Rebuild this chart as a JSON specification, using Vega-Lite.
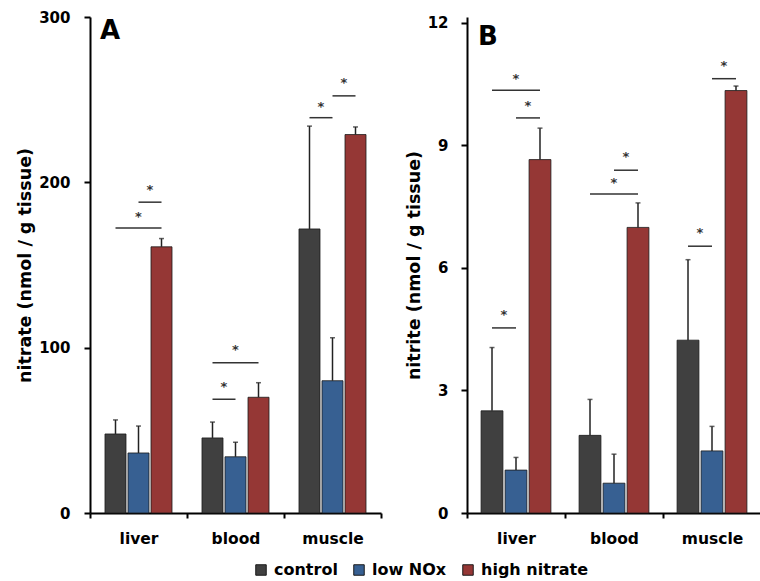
{
  "$schema": "https://vega.github.io/schema/vega-lite/v6.json",
  "padding": {"left": 16, "top": 10, "right": 0, "bottom": 0},
  "background": "white",
  "bounds": "flush",
  "spacing": 86,
  "config": {
    "view": {"stroke": null},
    "font": "DejaVu Sans",
    "axis": {"domainColor": "#000", "domainWidth": 2, "tickColor": "#000", "tickWidth": 2, "labelColor": "#000", "labelFont": "DejaVu Sans", "labelFontWeight": "bold", "titleFont": "DejaVu Sans", "titleFontWeight": "bold", "titleColor": "#000", "grid": false},
    "axisY": {"tickSize": 6, "labelFontSize": 15, "labelPadding": 14, "titleFontSize": 17.5, "titlePadding": 4},
    "axisX": {"tickSize": 5, "labelFontSize": 15.5, "labelPadding": 13, "labelAngle": 0, "tickBand": "extent", "title": null}
  },
  "datasets": {
    "nitrate": [
      {"tissue": "liver", "group": "control", "mean": 47.8, "upper": 56.3},
      {"tissue": "liver", "group": "low NOx", "mean": 36.3, "upper": 52.6},
      {"tissue": "liver", "group": "high nitrate", "mean": 161, "upper": 166},
      {"tissue": "blood", "group": "control", "mean": 45.4, "upper": 55},
      {"tissue": "blood", "group": "low NOx", "mean": 34, "upper": 42.8},
      {"tissue": "blood", "group": "high nitrate", "mean": 70, "upper": 78.8},
      {"tissue": "muscle", "group": "control", "mean": 171.8, "upper": 234},
      {"tissue": "muscle", "group": "low NOx", "mean": 80, "upper": 106},
      {"tissue": "muscle", "group": "high nitrate", "mean": 228.9, "upper": 233.5}
    ],
    "nitrite": [
      {"tissue": "liver", "group": "control", "mean": 2.5, "upper": 4.05},
      {"tissue": "liver", "group": "low NOx", "mean": 1.05, "upper": 1.36},
      {"tissue": "liver", "group": "high nitrate", "mean": 8.65, "upper": 9.42},
      {"tissue": "blood", "group": "control", "mean": 1.9, "upper": 2.78},
      {"tissue": "blood", "group": "low NOx", "mean": 0.73, "upper": 1.44},
      {"tissue": "blood", "group": "high nitrate", "mean": 6.99, "upper": 7.59},
      {"tissue": "muscle", "group": "control", "mean": 4.23, "upper": 6.2},
      {"tissue": "muscle", "group": "low NOx", "mean": 1.52, "upper": 2.12},
      {"tissue": "muscle", "group": "high nitrate", "mean": 10.34, "upper": 10.45}
    ],
    "bracketsA": [
      {"tissue": "liver", "from": "control", "to": "high nitrate", "y": 172.4, "star": 181.5},
      {"tissue": "liver", "from": "low NOx", "to": "high nitrate", "y": 188, "star": 197.8},
      {"tissue": "blood", "from": "control", "to": "low NOx", "y": 68.8, "star": 78.5},
      {"tissue": "blood", "from": "control", "to": "high nitrate", "y": 90.9, "star": 101},
      {"tissue": "muscle", "from": "control", "to": "low NOx", "y": 239.1, "star": 248.2},
      {"tissue": "muscle", "from": "low NOx", "to": "high nitrate", "y": 252.3, "star": 262.5}
    ],
    "bracketsB": [
      {"tissue": "liver", "from": "control", "to": "high nitrate", "y": 10.35, "star": 10.72},
      {"tissue": "liver", "from": "low NOx", "to": "high nitrate", "y": 9.67, "star": 10.07},
      {"tissue": "liver", "from": "control", "to": "low NOx", "y": 4.53, "star": 4.94},
      {"tissue": "blood", "from": "control", "to": "high nitrate", "y": 7.81, "star": 8.17},
      {"tissue": "blood", "from": "low NOx", "to": "high nitrate", "y": 8.39, "star": 8.8},
      {"tissue": "muscle", "from": "control", "to": "low NOx", "y": 6.53, "star": 6.95},
      {"tissue": "muscle", "from": "low NOx", "to": "high nitrate", "y": 10.63, "star": 11.05}
    ]
  },
  "resolve": {"scale": {"xOffset": "independent"}},
  "hconcat": [
    {
      "width": 291,
      "height": 496,
      "title": {"text": "A", "anchor": "start", "frame": "group", "fontSize": 26, "font": "DejaVu Sans", "fontWeight": "bold", "color": "#000", "dx": 10, "offset": -55, "baseline": "alphabetic"},
      "layer": [
        {
          "data": {"name": "nitrate"},
          "mark": {"type": "bar", "stroke": "#1a1a1a", "strokeWidth": 0.8},
          "encoding": {
            "x": {"field": "tissue", "type": "nominal", "sort": ["liver", "blood", "muscle"], "scale": {"paddingInner": 0, "paddingOuter": 0}},
            "xOffset": {"field": "group", "type": "nominal", "scale": {"domain": ["control", "low NOx", "high nitrate"], "paddingInner": 0.087, "paddingOuter": 0.652}},
            "y": {"field": "mean", "type": "quantitative", "title": "nitrate (nmol / g tissue)", "scale": {"domain": [0, 300], "nice": false}, "axis": {"values": [0, 100, 200, 300]}},
            "color": {"field": "group", "type": "nominal",
              "scale": {"domain": ["control", "low NOx", "high nitrate"], "range": ["#404040", "#376092", "#953735"]},
              "legend": {"orient": "none", "legendX": 163, "legendY": 545, "direction": "horizontal", "title": null, "symbolType": "square", "symbolSize": 110, "symbolStrokeColor": "#1a1a1a", "symbolStrokeWidth": 1, "labelFont": "DejaVu Sans", "labelFontWeight": "bold", "labelFontSize": 16, "labelColor": "#000", "labelOffset": 5, "columnPadding": 13, "padding": 0}}
          }
        },
        {
          "data": {"name": "nitrate"},
          "mark": {"type": "rule", "color": "#222", "strokeWidth": 1.5},
          "encoding": {
            "x": {"field": "tissue", "type": "nominal", "sort": ["liver", "blood", "muscle"]},
            "xOffset": {"field": "group", "type": "nominal"},
            "y": {"field": "mean", "type": "quantitative"},
            "y2": {"field": "upper"}
          }
        },
        {
          "data": {"name": "nitrate"},
          "mark": {"type": "tick", "color": "#222", "size": 5, "thickness": 1.5},
          "encoding": {
            "x": {"field": "tissue", "type": "nominal", "sort": ["liver", "blood", "muscle"]},
            "xOffset": {"field": "group", "type": "nominal"},
            "y": {"field": "upper", "type": "quantitative"}
          }
        },
        {
          "data": {"name": "bracketsA"},
          "transform": [{"fold": ["from", "to"], "as": ["end", "grp"]}],
          "mark": {"type": "line", "color": "#333", "strokeWidth": 1.5},
          "encoding": {
            "x": {"field": "tissue", "type": "nominal", "sort": ["liver", "blood", "muscle"]},
            "xOffset": {"field": "grp", "type": "nominal"},
            "y": {"field": "y", "type": "quantitative"},
            "detail": [{"field": "tissue"}, {"field": "y"}]
          }
        },
        {
          "data": {"name": "bracketsA"},
          "transform": [{"filter": "datum.from == 'control' && datum.to == 'high nitrate'"}],
          "mark": {"type": "text", "text": "*", "fontSize": 13, "fontWeight": "bold", "color": "#333", "baseline": "alphabetic", "dy": 8, "dx": 23},
          "encoding": {
            "x": {"field": "tissue", "type": "nominal", "sort": ["liver", "blood", "muscle"]},
            "xOffset": {"field": "from", "type": "nominal"},
            "y": {"field": "star", "type": "quantitative"}
          }
        },
        {
          "data": {"name": "bracketsA"},
          "transform": [{"filter": "!(datum.from == 'control' && datum.to == 'high nitrate')"}],
          "mark": {"type": "text", "text": "*", "fontSize": 13, "fontWeight": "bold", "color": "#333", "baseline": "alphabetic", "dy": 8, "dx": 11.5},
          "encoding": {
            "x": {"field": "tissue", "type": "nominal", "sort": ["liver", "blood", "muscle"]},
            "xOffset": {"field": "from", "type": "nominal"},
            "y": {"field": "star", "type": "quantitative"}
          }
        }
      ]
    },
    {
      "width": 294,
      "height": 496,
      "title": {"text": "B", "anchor": "start", "frame": "group", "fontSize": 26, "font": "DejaVu Sans", "fontWeight": "bold", "color": "#000", "dx": 11, "offset": -55, "baseline": "alphabetic"},
      "layer": [
        {
          "data": {"name": "nitrite"},
          "mark": {"type": "bar", "stroke": "#1a1a1a", "strokeWidth": 0.8},
          "encoding": {
            "x": {"field": "tissue", "type": "nominal", "sort": ["liver", "blood", "muscle"], "scale": {"paddingInner": 0, "paddingOuter": 0}},
            "xOffset": {"field": "group", "type": "nominal", "scale": {"domain": ["control", "low NOx", "high nitrate"], "paddingInner": 0.09, "paddingOuter": 0.587}},
            "y": {"field": "mean", "type": "quantitative", "title": "nitrite (nmol / g tissue)", "scale": {"domain": [0, 12.14], "nice": false}, "axis": {"values": [0, 3, 6, 9, 12], "labelPadding": 13}},
            "color": {"field": "group", "type": "nominal"}
          }
        },
        {
          "data": {"name": "nitrite"},
          "mark": {"type": "rule", "color": "#222", "strokeWidth": 1.5},
          "encoding": {
            "x": {"field": "tissue", "type": "nominal", "sort": ["liver", "blood", "muscle"]},
            "xOffset": {"field": "group", "type": "nominal"},
            "y": {"field": "mean", "type": "quantitative"},
            "y2": {"field": "upper"}
          }
        },
        {
          "data": {"name": "nitrite"},
          "mark": {"type": "tick", "color": "#222", "size": 5, "thickness": 1.5},
          "encoding": {
            "x": {"field": "tissue", "type": "nominal", "sort": ["liver", "blood", "muscle"]},
            "xOffset": {"field": "group", "type": "nominal"},
            "y": {"field": "upper", "type": "quantitative"}
          }
        },
        {
          "data": {"name": "bracketsB"},
          "transform": [{"fold": ["from", "to"], "as": ["end", "grp"]}],
          "mark": {"type": "line", "color": "#333", "strokeWidth": 1.5},
          "encoding": {
            "x": {"field": "tissue", "type": "nominal", "sort": ["liver", "blood", "muscle"]},
            "xOffset": {"field": "grp", "type": "nominal"},
            "y": {"field": "y", "type": "quantitative"},
            "detail": [{"field": "tissue"}, {"field": "y"}]
          }
        },
        {
          "data": {"name": "bracketsB"},
          "transform": [{"filter": "datum.from == 'control' && datum.to == 'high nitrate'"}],
          "mark": {"type": "text", "text": "*", "fontSize": 13, "fontWeight": "bold", "color": "#333", "baseline": "alphabetic", "dy": 8, "dx": 24},
          "encoding": {
            "x": {"field": "tissue", "type": "nominal", "sort": ["liver", "blood", "muscle"]},
            "xOffset": {"field": "from", "type": "nominal"},
            "y": {"field": "star", "type": "quantitative"}
          }
        },
        {
          "data": {"name": "bracketsB"},
          "transform": [{"filter": "!(datum.from == 'control' && datum.to == 'high nitrate')"}],
          "mark": {"type": "text", "text": "*", "fontSize": 13, "fontWeight": "bold", "color": "#333", "baseline": "alphabetic", "dy": 8, "dx": 12},
          "encoding": {
            "x": {"field": "tissue", "type": "nominal", "sort": ["liver", "blood", "muscle"]},
            "xOffset": {"field": "from", "type": "nominal"},
            "y": {"field": "star", "type": "quantitative"}
          }
        }
      ]
    }
  ]
}
